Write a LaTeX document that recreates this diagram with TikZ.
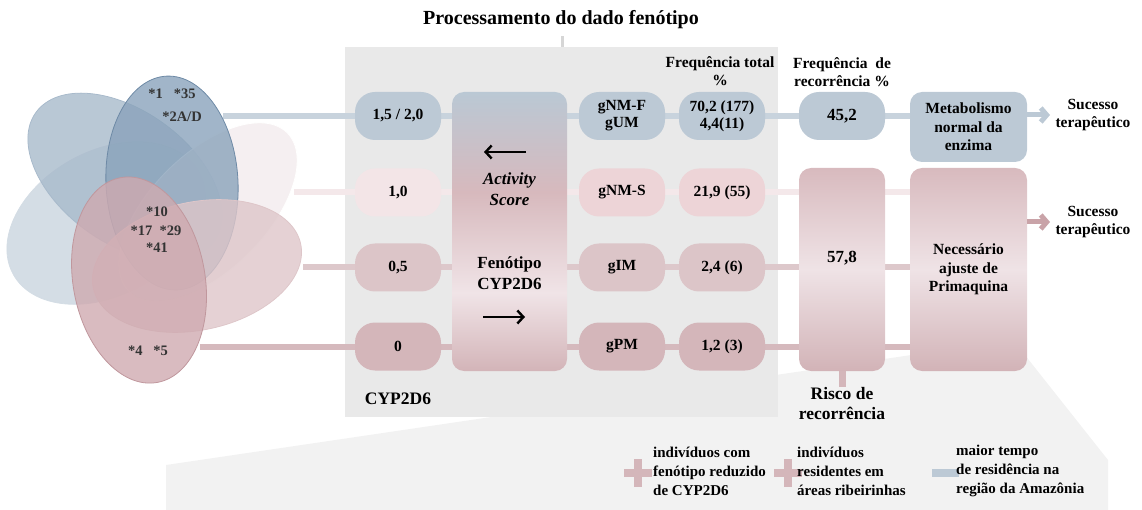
\documentclass[tikz,border=0pt]{standalone}
\usepackage{fontspec}
\setmainfont{Liberation Serif}
\usetikzlibrary{arrows.meta,backgrounds}

\definecolor{bluebox}{HTML}{BCC9D5}
\definecolor{blueline}{HTML}{C8D3DD}
\definecolor{pinkL}{HTML}{F3E5E7}
\definecolor{pinkS}{HTML}{EDD4D7}
\definecolor{pinkM}{HTML}{DCC5C8}
\definecolor{pinkD}{HTML}{D4B6BA}
\definecolor{lineB}{HTML}{F4E8EA}
\definecolor{lineC}{HTML}{DDC8CB}
\definecolor{lineD}{HTML}{D5B9BD}
\definecolor{grayA}{HTML}{E9E9E9}
\definecolor{grayB}{HTML}{F2F2F2}
\definecolor{tickgray}{HTML}{D6D6D6}
\definecolor{arrowpink}{HTML}{C9A3A8}
\definecolor{venngray}{HTML}{333333}
\definecolor{stop}{HTML}{BAC8D4}
\definecolor{spink}{HTML}{D7B9BD}
\definecolor{slight}{HTML}{F0E4E7}
\definecolor{sbot}{HTML}{D3B4B8}
\definecolor{rtop}{HTML}{D8BABE}
\definecolor{rmid}{HTML}{EFE3E6}
\definecolor{rbot}{HTML}{D2B3B7}
\definecolor{eA}{HTML}{8AA3BB}
\definecolor{eAline}{HTML}{6E8AA6}
\definecolor{eB}{HTML}{A8BACB}
\definecolor{eC}{HTML}{C9D4DE}
\definecolor{eD}{HTML}{F3EBED}
\definecolor{eE}{HTML}{CFAAB0}
\definecolor{eEline}{HTML}{C0979D}
\definecolor{eF}{HTML}{DEC6C9}

\pgfdeclareverticalshading{scoreshade}{100bp}{color(0bp)=(sbot); color(25bp)=(sbot); color(39bp)=(slight); color(57bp)=(spink); color(75bp)=(stop); color(100bp)=(stop)}
\pgfdeclareverticalshading{riskshade}{100bp}{color(0bp)=(rbot); color(25bp)=(rbot); color(50bp)=(rmid); color(75bp)=(rtop); color(100bp)=(rtop)}

\begin{document}
\begin{tikzpicture}[x=1pt,y=-1pt,line join=bevel,
  pill/.style={rounded corners=20pt,minimum width=86pt,minimum height=48pt,inner sep=0pt,align=center,font=\bfseries\fontsize{15.5}{17}\selectfont},
  tallbox/.style={rounded corners=12pt,minimum width=117pt,inner sep=0pt,align=center,font=\bfseries\fontsize{15.5}{18.5}\selectfont},
  headtext/.style={font=\bfseries\fontsize{15.5}{18}\selectfont,align=center,inner sep=1pt},
  bigtext/.style={font=\bfseries\fontsize{17.5}{20}\selectfont,align=center,inner sep=1pt},
  boxtext/.style={font=\bfseries\fontsize{17}{21}\selectfont,align=center,inner sep=0pt},
  legendtext/.style={font=\bfseries\fontsize{15}{19}\selectfont,align=left,anchor=west,inner sep=0pt},
  venntext/.style={font=\bfseries\fontsize{14.5}{16}\selectfont,text=venngray,inner sep=0pt},
  vennset/.style={fill opacity=0.8,line width=0.8pt},
  rowline/.style={line width=6pt},
  sucarrow/.style={line width=5pt,-{Straight Barb[length=6pt,width=14pt]}},
  txtarrow/.style={line width=2.4pt,-{Straight Barb[length=6pt,width=13pt]}},
]
\useasboundingbox (0,0) rectangle (1142,510);
%%
  % Venn: CYP2D6 alleles
  \coordinate (c3) at (106,223);
  \coordinate (c2) at (125,177);
  \coordinate (c4) at (208,212);
  \coordinate (c1) at (172,183);
  \coordinate (c6) at (197,266);
  \coordinate (c5) at (139,280);
  \draw[vennset,fill=eC,draw=eC!80!white,rotate around={29:(c3)}] (c3) ellipse [x radius=106pt, y radius=72pt];
  \draw[vennset,fill=eB,draw=eB,rotate around={-36:(c2)}] (c2) ellipse [x radius=110pt, y radius=66pt];
  \draw[vennset,fill=eD,draw=white,rotate around={45:(c4)}] (c4) ellipse [x radius=112pt, y radius=58pt];
  \draw[vennset,fill=eA,draw=eAline,rotate around={3:(c1)}] (c1) ellipse [x radius=66pt, y radius=107pt];
  \draw[vennset,fill=eF,draw=eF,rotate around={12:(c6)}] (c6) ellipse [x radius=106pt, y radius=64pt];
  \draw[vennset,fill=eE,draw=eEline,rotate around={10:(c5)}] (c5) ellipse [x radius=66pt, y radius=104pt];
  \node[venntext] (a135) at (172,94) {*1\ \ \ *35};
  \node[venntext] (a2ad) at (182,117) {*2A/D};
  \node[venntext] (a10) at (157,212) {*10};
  \node[venntext] (a1729) at (156,231) {*17\ \ *29};
  \node[venntext] (a41) at (157,248) {*41};
  \node[venntext] (a45) at (148,351) {*4\ \ \ *5};
  \coordinate (v1) at (223,116);
  \coordinate (v2) at (294,192.5);
  \coordinate (v3) at (303,267.5);
  \coordinate (v4) at (200,346.5);
  % Node: title
  \node[headtext,font=\bfseries\fontsize{20}{22}\selectfont] (titulo) at (561,20) {Processamento do dado fenótipo};
  \coordinate (painel) at (562,47);
  % Node: activity score
  \node[pill,fill=bluebox] (as1) at (398,116) {1,5 / 2,0};
  \node[pill,fill=pinkL] (as2) at (398,192.5) {1,0};
  \node[pill,fill=pinkM] (as3) at (398,267.5) {0,5};
  \node[pill,fill=pinkD] (as4) at (398,346.5) {0};
  \node[bigtext] (cyp) at (398,399) {CYP2D6};
  % Node: fenotipo
  \node[shading=scoreshade,rounded corners=12pt,minimum width=115pt,minimum height=279pt,inner sep=0pt] (fen) at (509.5,231.5) {};
  \node[boxtext,font=\bfseries\itshape\fontsize{17}{21}\selectfont] (score) at (509.5,189.5) {Activity\\Score};
  \node[boxtext] (fentxt) at (509.5,273.5) {Fenótipo\\CYP2D6};
  \coordinate (aL0) at (526,152);
  \coordinate (aL1) at (484,152);
  \coordinate (aR0) at (483,317);
  \coordinate (aR1) at (525,317);
  % Node: grupos
  \node[pill,fill=bluebox] (g1) at (622,116) {gNM-F\\gUM};
  \node[pill,fill=pinkS] (g2) at (622,192.5) {gNM-S};
  \node[pill,fill=pinkM] (g3) at (622,267.5) {gIM};
  \node[pill,fill=pinkD] (g4) at (622,346.5) {gPM};
  % Node: frequencia total
  \node[headtext] (ftot) at (720,71) {Frequência total\\\%};
  \node[pill,fill=bluebox] (f1) at (722,116) {70,2 (177)\\4,4(11)};
  \node[pill,fill=pinkS] (f2) at (722,192.5) {21,9 (55)};
  \node[pill,fill=pinkM] (f3) at (722,267.5) {2,4 (6)};
  \node[pill,fill=pinkD] (f4) at (722,346.5) {1,2 (3)};
  % Node: recorrencia
  \node[headtext] (frec) at (842,72) {Frequência\ \ de\\recorrência \%};
  \node[pill,fill=bluebox,font=\bfseries\fontsize{17}{19}\selectfont] (r1) at (842,116) {45,2};
  \node[shading=riskshade,rounded corners=12pt,minimum width=86pt,minimum height=203pt,inner sep=0pt] (rec) at (842,269.5) {};
  \node[boxtext] (rectxt) at (842,258) {57,8};
  \node[bigtext] (risco) at (842,404) {Risco de\\recorrência};
  % Node: desfecho
  \node[tallbox,fill=bluebox,minimum height=70pt] (meta) at (968.5,127) {Metabolismo\\normal da\\enzima};
  \node[tallbox,shading=riskshade,minimum height=203pt] (prim) at (968.5,269.5) {Necessário\\ajuste de\\Primaquina};
  \node[headtext] (suc1) at (1093,115) {Sucesso\\terapêutico};
  \node[headtext] (suc2) at (1093,222) {Sucesso\\terapêutico};
  \coordinate (s1) at (1050,115);
  \coordinate (s2) at (1050,222);
  % Node: legenda
  \fill[pinkD] (624,469) rectangle (652,477);
  \fill[pinkD] (634,459) rectangle (642,487);
  \fill[pinkD] (774,469) rectangle (802,477);
  \fill[pinkD] (784,459) rectangle (792,487);
  \fill[bluebox] (932,469) rectangle (959,477);
  \node[legendtext] (leg1) at (653,471) {indivíduos com\\fenótipo reduzido\\de CYP2D6};
  \node[legendtext] (leg2) at (797,471) {indivíduos\\residentes em\\áreas ribeirinhas};
  \node[legendtext] (leg3) at (956,471) {maior tempo\\de residência na\\região da Amazônia};
  % Edge: arrows
  \draw[txtarrow] (aL0) -- (aL1);
  \draw[txtarrow] (aR0) -- (aR1);
  \draw[sucarrow,bluebox] (meta.east |- s1) -- (s1);
  \draw[sucarrow,arrowpink] (prim.east |- s2) -- (s2);
  \draw[line width=7pt,pinkD] (rec.south) -- (risco.north);
\begin{pgfonlayer}{background}
  \fill[grayB] (166,465) -- (1013,340) -- (1108,460) -- (1108,510) -- (166,510) -- cycle;
  \fill[grayA] (345,47) rectangle (778,417);
  \draw[line width=3pt,tickgray,shorten <=6pt] (titulo.south -| painel) -- (painel);
  % Edge: rows
  \draw[rowline,blueline] (v1) -- (meta.west |- v1);
  \draw[rowline,lineB] (v2) -- (prim.west |- v2);
  \draw[rowline,lineC] (v3) -- (prim.west |- v3);
  \draw[rowline,lineD] (v4) -- (prim.west |- v4);
\end{pgfonlayer}
%
\end{tikzpicture}
\end{document}
